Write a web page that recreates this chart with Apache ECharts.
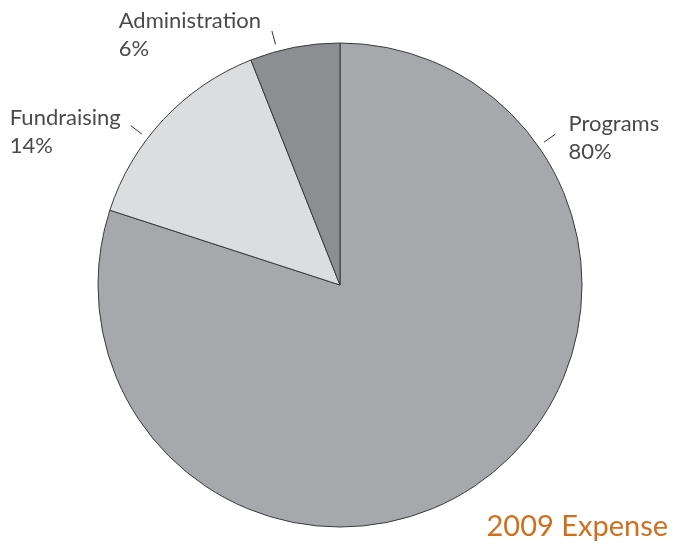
<!DOCTYPE html>
<html>
<head>
<meta charset="utf-8">
<script src="https://cdn.jsdelivr.net/npm/echarts@6/dist/echarts.min.js"></script>
<style>html,body{margin:0;padding:0;background:#fff}#c{width:675px;height:546px}</style>
</head>
<body>
<div id="c"></div>
<script>
const categories = ['Programs', 'Fundraising', 'Administration'];
const values = [80, 14, 6];
const colors = ['#a7a8ab', '#dcdddf', '#8d8e91'];
const titleText = '2009 Expense';

// layout constants
const CX = 340, CY = 285, R = 242;
const tickAngles = [35, 142.7, 105];
const labelOffsets = [[13, 4, 'left'], [-10, 6, 'right'], [-11, 4, 'right']];

const chart = echarts.init(document.getElementById('c'));
chart.setOption({
  animation: false,
  title: {
    text: titleText, right: 2, bottom: 0,
    textStyle: { color: '#d0701f', fontSize: 29, fontWeight: 'normal', fontFamily: 'Lato' }
  },
  series: [{
    type: 'pie',
    center: [CX, CY],
    radius: [0, R],
    startAngle: 90,
    clockwise: true,
    data: categories.map((n, i) => ({ name: n, value: values[i], itemStyle: { color: colors[i] } })),
    itemStyle: { borderColor: '#3a3a3a', borderWidth: 1 },
    label: {
      show: true, position: 'outside', overflow: 'none', edgeDistance: 0,
      formatter: '{b}\n{c}%',
      color: '#4a4a4a', fontSize: 22, lineHeight: 28, fontFamily: 'Lato', align: 'left'
    },
    labelLine: { show: true, lineStyle: { color: '#333', width: 1 } },
    labelLayout: function (p) {
      const i = p.dataIndex;
      const a = tickAngles[i] * Math.PI / 180;
      const r1 = 249, r2 = 263;
      const p1 = [CX + r1 * Math.cos(a), CY - r1 * Math.sin(a)];
      const p2 = [CX + r2 * Math.cos(a), CY - r2 * Math.sin(a)];
      const o = labelOffsets[i];
      let x = p2[0] + o[0];
      if (o[2] === 'right') x -= p.labelRect.width;
      return {
        x: x, y: p2[1] + o[1],
        align: 'left', verticalAlign: 'middle',
        labelLinePoints: [p1, p2, p2]
      };
    }
  }]
});
</script>
</body>
</html>
